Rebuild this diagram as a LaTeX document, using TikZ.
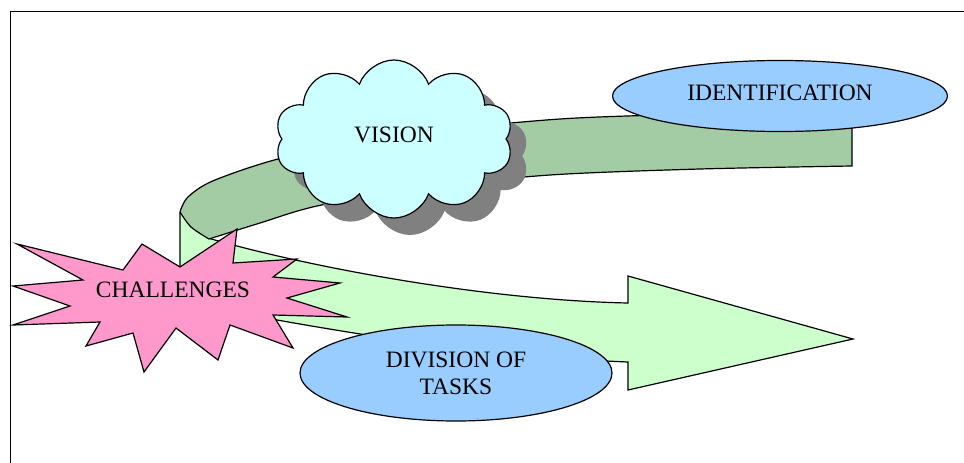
\documentclass[tikz,border=0pt]{standalone}
\usepackage{fontspec}
\setmainfont{Liberation Serif}
\usetikzlibrary{shapes.geometric,shapes.symbols}
\definecolor{dgreen}{RGB}{164,204,164}
\definecolor{lgreen}{RGB}{204,255,204}
\definecolor{ellblue}{RGB}{153,204,255}
\definecolor{starpink}{RGB}{255,153,204}
\definecolor{cloudc}{RGB}{204,255,255}
\definecolor{shadowc}{RGB}{128,128,128}
\tikzset{
  outl/.style={draw=black, line width=1.2pt, line join=miter},
  lbl/.style={font=\fontsize{23.5}{27}\selectfont, text=black, align=center},
  ellnode/.style={ellipse, outl, fill=ellblue, inner sep=0pt, lbl},
  cloudnode/.style={cloud, cloud puffs=10, cloud puff arc=140, cloud ignores aspect, minimum width=238pt, minimum height=158pt, inner sep=0pt}
}
\begin{document}
\begin{tikzpicture}[x=1pt,y=-1pt]
\useasboundingbox (0,0) rectangle (964,463);
% frame
\coordinate (fbl) at (10.5,463);
\coordinate (ftl) at (10.5,11.5);
\coordinate (ftr) at (964,11.5);
\draw[line width=1.5pt] (fbl) -- (ftl) -- (ftr);
% light green arrow
\filldraw[outl, fill=lgreen] (180,213) -- (180,300) -- (277,320)
  .. controls (340,331) and (480,356) .. (628,362)
  -- (628,390) -- (853,339) -- (628,276) -- (628,303)
  .. controls (480,300) and (300,265) .. (208,238)
  -- (198,222) -- cycle;
% dark green band
\filldraw[outl, fill=dgreen] (852,166) -- (852,111)
  -- plot[smooth] coordinates {(852,111) (700,114) (560,119) (420,133) (290,156) (215,180) (188,197) (180,212)}
  -- plot[smooth] coordinates {(180,212) (191,227) (209,239)}
  -- plot[smooth] coordinates {(209,239) (260,223) (317,206) (420,188) (550,175) (700,169) (852,166)}
  -- cycle;
% cloud with shadow
\node[cloudnode, fill=shadowc] (vshadow) at (410,156) {};
\node[cloudnode, outl, fill=cloudc, lbl, text depth=8pt] (vision) at (394,139) {VISION};
% ellipses
\node[ellnode, minimum width=335pt, minimum height=71pt, text depth=6pt] (ident) at (780,96) {IDENTIFICATION};
\node[ellnode, minimum width=312pt, minimum height=96pt] (division) at (456,373) {DIVISION OF\\TASKS};
% star
\filldraw[outl, fill=starpink] (17,244) -- (123,270) -- (142,244) -- (180,267) -- (237,229)
  -- (233,263) -- (297,259) -- (273,277) -- (340,283) -- (287,298) -- (347,317)
  -- (273,315) -- (293,348) -- (230,325) -- (218,360) -- (176,328) -- (144,372)
  -- (133,333) -- (86,346) -- (100,322) -- (13,325) -- (70,306) -- (13,286)
  -- (83,280) -- cycle;
\node[lbl] (chal) at (173,290) {CHALLENGES};
\end{tikzpicture}
\end{document}
